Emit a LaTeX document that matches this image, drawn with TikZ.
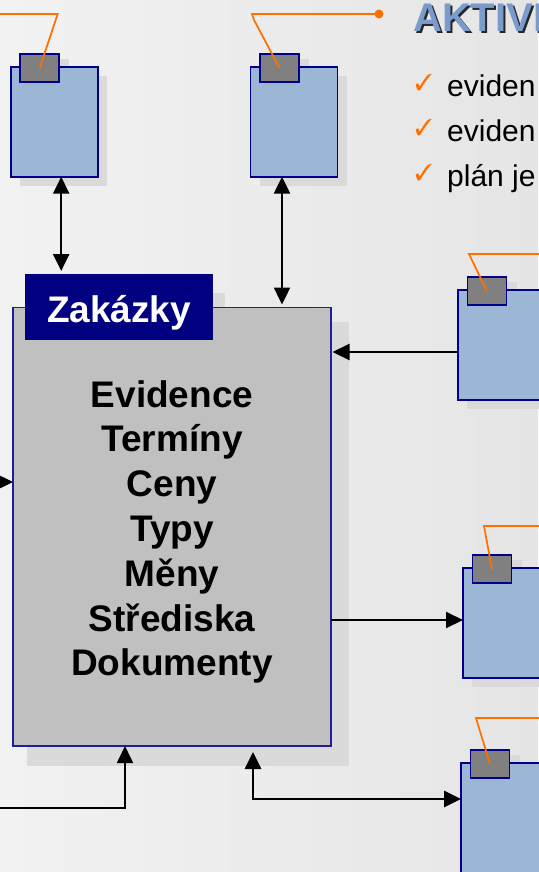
\documentclass[tikz,border=0pt]{standalone}
\usepackage{fontspec}
\setmainfont{Liberation Sans}
\usepackage{pifont}
\usetikzlibrary{arrows.meta}
\definecolor{docblue}{RGB}{156,183,214}
\definecolor{navy}{RGB}{0,0,140}
\definecolor{tabgray}{RGB}{128,128,128}
\definecolor{mainfill}{RGB}{192,192,192}
\definecolor{mainline}{RGB}{30,30,160}
\definecolor{zakfill}{RGB}{0,0,128}
\definecolor{shadegray}{RGB}{218,218,218}
\definecolor{leadorange}{RGB}{255,112,0}
\definecolor{titleblue}{RGB}{122,155,203}
\definecolor{bgleft}{RGB}{242,242,242}
\definecolor{bgright}{RGB}{229,229,229}
\pgfdeclarelayer{back}
\pgfdeclarelayer{shade}
\pgfsetlayers{back,shade,main}

\begin{document}
\begin{tikzpicture}[x=1pt, y=-1pt,
>={Triangle[length=17pt,width=16pt]},
docbox/.style={draw=navy, line width=1.8pt, fill=docblue, anchor=north west, inner sep=0pt, outer sep=0pt, minimum width=87pt, minimum height=110pt},
doctab/.style={draw=navy, line width=1.8pt, fill=tabgray, anchor=north west, inner sep=0pt, outer sep=0pt, minimum width=39pt, minimum height=28pt},
mainbox/.style={draw=mainline, line width=1.3pt, fill=mainfill, anchor=north west, inner sep=0pt, outer sep=0pt, minimum width=318pt, minimum height=438.5pt},
ztab/.style={fill=zakfill, text=white, anchor=north west, inner sep=0pt, outer sep=0pt, minimum width=188pt, minimum height=66pt, text height=30pt, text depth=0pt, font=\fontsize{37}{44}\selectfont\bfseries},
item/.style={anchor=base, inner sep=0pt, font=\fontsize{37}{44}\selectfont\bfseries},
heading/.style={anchor=base west, inner sep=0pt, font=\fontsize{40}{46}\selectfont\bfseries},
link/.style={line width=2.4pt},
lead/.style={draw=leadorange, line width=1.7pt},
bullet/.style={anchor=base west, inner sep=0pt, font=\fontsize{30}{36}\selectfont},
tick/.style={anchor=base west, inner sep=0pt, text=leadorange, font=\fontsize{23}{28}\selectfont}]
\useasboundingbox (0,0) rectangle (538,872);
\begin{pgfonlayer}{back}
\shade[left color=bgleft, right color=bgright] (0,0) rectangle (538,872);
\end{pgfonlayer}

%documents round the order
\foreach \n/\x/\y in {A/10.7/66.7, B/250.5/66.7, C/458/290, D/463/568, E/461/763}{
	\node[docbox] (d\n) at (\x,\y) {};
	\node[doctab] (t\n) at ([shift={(9.5,-12.7)}]d\n.north west) {};
}

%the order itself
\node[mainbox] (main) at (13,307.5) {};
\node[ztab] (zak) at (25,274) {Zakázky};
\foreach \w [count=\i from 0] in {Evidence,Termíny,Ceny,Typy,Měny,Střediska,Dokumenty}
	\node[item] (w\i) at (172,407+44.8*\i) {\w};

%shadows behind all boxes
\begin{pgfonlayer}{shade}
\foreach \n in {A,B,C,D,E}{
	\fill[shadegray] ([shift={(9,9)}]d\n.north west) rectangle ([shift={(9,9)}]d\n.south east);
	\fill[shadegray] ([shift={(10,5)}]t\n.north west) rectangle ([shift={(10,5)}]t\n.south east);
}
\fill[shadegray] ([shift={(14,14)}]main.north west) rectangle ([shift={(18,20)}]main.south east);
\fill[shadegray] ([shift={(12,19)}]zak.north west) rectangle ([shift={(12,19)}]zak.south east);
\node[heading, text=black!85] (titleshadow) at (415,33.5) {AKTIVIT};
\end{pgfonlayer}

%heading and list
\node[heading, text=titleblue] (title) at (413,32) {AKTIVIT};
\foreach \t [count=\i from 0] in {eviden,eviden,plán je}{
	\node[tick] (c\i) at (415,91+44.5*\i) {\ding{51}};
	\node[bullet] (b\i) at (447,97+44.5*\i) {\t};
}

%links
\draw[link, <->, shorten >=3pt] ([xshift=7pt]dA.south) -- ([xshift=7pt]dA.south |- zak.north);
\draw[link, <->, shorten >=3pt] ([xshift=-12pt]dB.south) -- ([xshift=-12pt]dB.south |- main.north);
\draw[link, ->, line width=2pt, shorten >=1.5pt] ([yshift=-7pt]dC.west) -- ([yshift=-7pt]dC.west -| main.east);
\draw[link, ->, line width=2pt] ([yshift=3pt]dD.west -| main.east) -- ([yshift=3pt]dD.west);
\draw[link, <->, line width=2.8pt, shorten <=6pt] ([xshift=240pt]main.south west) |- ([yshift=19pt]dE.west);
\coordinate (inS) at (-10,808);
\draw[link, ->, line width=1.7pt] (inS) -| ([xshift=112pt]main.south west);
\coordinate (inW) at (-10,482);
\draw[link, ->] (inW) -- (inW -| main.west);

%callout lines
\coordinate (oA) at (-5,14);
\draw[lead] (oA) -- (57.7,14) -- (tA.center);
\coordinate (oB) at (379,14);
\draw[lead] (oB) -- (252,14) -- (254,20) -- (tB.center);
\fill[leadorange] (oB) circle (4.5pt);
\coordinate (oC) at (545,254);
\draw[lead] (oC) -- (469,254) -- (tC.center);
\coordinate (oD) at (545,526);
\draw[lead] (oD) -- (484,526) -- (tD.center);
\coordinate (oE) at (545,718);
\draw[lead] (oE) -- (476,718) -- (tE.center);
\end{tikzpicture}
\end{document}
